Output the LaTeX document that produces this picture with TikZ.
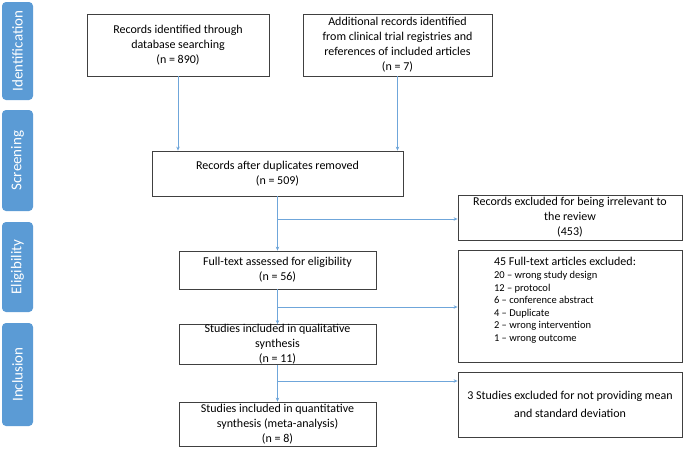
\documentclass[tikz,border=0pt]{standalone}
\usepackage{fontspec}
\setmainfont{Carlito}
\usetikzlibrary{arrows.meta}
\definecolor{bandblue}{HTML}{5B9BD5}
\definecolor{linkblue}{HTML}{6FA6DA}
\definecolor{boxline}{HTML}{404040}
\begin{document}
\begin{tikzpicture}[x=1pt,y=-1pt,
    band/.style={fill=bandblue, rounded corners=4pt, rotate=90, text=white,
        minimum height=31pt, inner sep=0pt, font=\fontsize{15}{18}\selectfont},
    stage/.style={draw=boxline, line width=0.8pt, align=center, inner sep=0pt,
        font=\fontsize{12}{15}\selectfont},
    link/.style={draw=linkblue, line width=0.8pt, -{Stealth[length=4pt,width=3.5pt]}}]
                \useasboundingbox (0,0) rectangle (685,448);
                % side bands
                \node[band, minimum width=98pt] (ident) at (17.5,51) {Identification};
                \node[band, minimum width=101pt] (screen) at (17.5,160.5) {Screening};
                \node[band, minimum width=90pt] (elig) at (17.5,267) {Eligibility};
                \node[band, minimum width=103pt] (incl) at (17.5,374.5) {Inclusion};
                % main column
                \node[stage, minimum width=182pt, minimum height=62pt] (db) at (178,45) {Records identified through\\database searching\\(n = 890)};
                \node[stage, minimum width=189pt, minimum height=62pt] (extra) at (397.5,45) {Additional records identified\\from clinical trial registries and\\references of included articles\\(n = 7)};
                \node[stage, minimum width=251pt, minimum height=45pt] (dup) at (277.5,173.5) {Records after duplicates removed\\(n = 509)};
                \node[stage, minimum width=197pt, minimum height=38pt] (full) at (277.5,270) {Full-text assessed for eligibility\\(n = 56)};
                \node[stage, minimum width=197pt, minimum height=39pt] (qual) at (277.5,344.5) {Studies included in qualitative\\synthesis\\(n = 11)};
                \node[stage, minimum width=197pt, minimum height=44pt] (quant) at (277.5,424) {Studies included in quantitative\\synthesis (meta-analysis)\\(n = 8)};
                % exclusions
                \node[stage, minimum width=224pt, minimum height=45pt] (irrel) at (570,217.5) {Records excluded for being irrelevant to\\the review\\(453)};
                \node[stage, minimum width=224pt, minimum height=112pt] (fullex) at (570,306) {\parbox[c][106pt][t]{152pt}{\raggedright\vspace*{4pt}45 Full-text articles excluded:\\[1pt]
                    {\fontsize{10.5}{12.5}\selectfont 20 -- wrong study design\\12 -- protocol\\6 -- conference abstract\\4 -- Duplicate\\2 -- wrong intervention\\1 -- wrong outcome\par}}};
                \node[stage, minimum width=224pt, minimum height=65pt] (nomean) at (570,404.5) {3 Studies excluded for not providing mean\\[3pt]and standard deviation};
                % branch points
                \coordinate (b1) at (277.5,219);
                \coordinate (b2) at (277.5,307);
                \coordinate (b3) at (277.5,381);
                \draw[link] (db.south) -- (db.south |- dup.north);
                \draw[link] (extra.south) -- (extra.south |- dup.north);
                \draw[link] (dup.south) -- (full.north);
                \draw[link] (full.south) -- (qual.north);
                \draw[link] (qual.south) -- (quant.north);
                \draw[link] (b1) -- (irrel.west |- b1);
                \draw[link] (b2) -- (fullex.west |- b2);
                \draw[link] (b3) -- (nomean.west |- b3);
            \end{tikzpicture}
\end{document}
